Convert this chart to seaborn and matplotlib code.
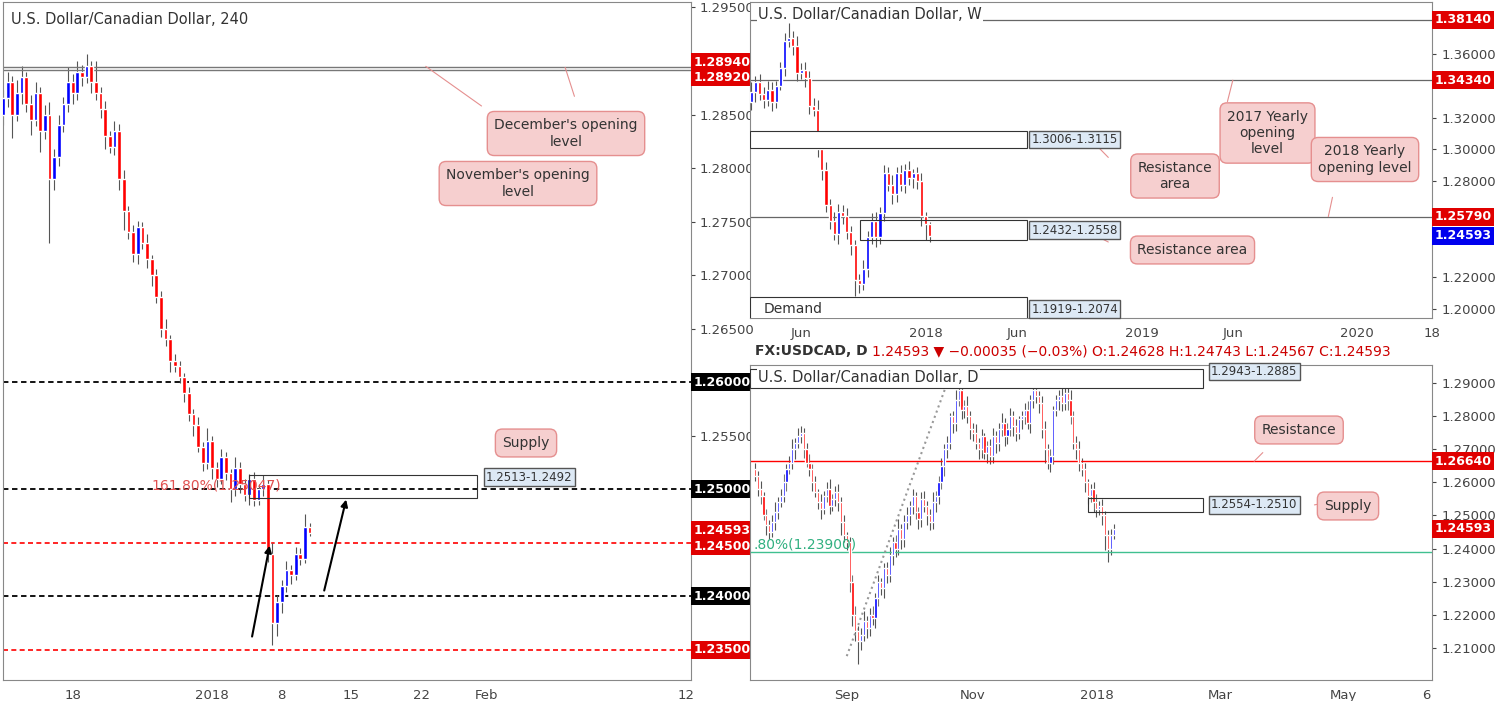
import numpy as np
import seaborn as sns
import matplotlib.pyplot as plt
from matplotlib.patches import Rectangle
from matplotlib.transforms import blended_transform_factory as btf

# ---- 4h panel data (one candle ~ 8h, 15 per week) ----
h4_close = [1.2865, 1.2880, 1.2850, 1.2870, 1.2885, 1.2860, 1.2845, 1.2870, 1.2835, 1.2850,
            1.2790, 1.2810, 1.2840, 1.2860, 1.2880, 1.2870, 1.2890, 1.2885, 1.2895, 1.2880,
            1.2870, 1.2855, 1.2830, 1.2820, 1.2835, 1.2790, 1.2760, 1.2740, 1.2720, 1.2745,
            1.2730, 1.2715, 1.2700, 1.2680, 1.2650, 1.2640, 1.2620, 1.2615, 1.2605, 1.2590,
            1.2570, 1.2560, 1.2540, 1.2525, 1.2545, 1.2520, 1.2510, 1.2530, 1.2515, 1.2500,
            1.2520, 1.2505, 1.2495, 1.2510, 1.2490, 1.2500, 1.2505, 1.2440, 1.2375, 1.2395,
            1.2410, 1.2425, 1.2420, 1.2440, 1.2435, 1.2465, 1.2459]
h4_open0 = 1.2850
h4_wick_hi = [8, 10, 6, 12, 10, 5, 8, 10, 6, 9, 12, 8, 10, 6, 14, 8, 10, 6, 12, 5,
              20, 6, 8, 5, 9, 6, 8, 5, 7, 6, 5, 8, 4, 6, 5, 9, 4, 6, 5, 4,
              6, 5, 8, 4, 12, 5, 6, 8, 5, 4, 10, 6, 5, 4, 6, 5, 8, 4, 10, 6,
              5, 8, 4, 6, 5, 12, 4]
h4_wick_lo = [10, 8, 22, 6, 10, 8, 14, 6, 20, 8, 60, 10, 8, 6, 8, 10, 6, 8, 6, 10,
              6, 8, 12, 6, 8, 10, 18, 6, 8, 10, 6, 8, 10, 6, 8, 6, 10, 5, 6, 8,
              6, 10, 5, 8, 6, 10, 8, 5, 6, 12, 6, 8, 6, 10, 6, 5, 6, 8, 20, 12,
              10, 6, 8, 5, 6, 4, 3]

# ---- weekly panel data (week index from 2017-01-02) ----
w_start = 10
w_close = [1.3360, 1.3420, 1.3350, 1.3310, 1.3370, 1.3300, 1.3400, 1.3510, 1.3680, 1.3700,
           1.3650, 1.3480, 1.3500, 1.3450, 1.3270, 1.3250, 1.3000, 1.2870, 1.2650, 1.2550,
           1.2470, 1.2610, 1.2580, 1.2480, 1.2400, 1.2180, 1.2160, 1.2250, 1.2450, 1.2550,
           1.2450, 1.2600, 1.2850, 1.2780, 1.2720, 1.2850, 1.2780, 1.2870, 1.2820, 1.2850,
           1.2800, 1.2580, 1.2530, 1.2459]
w_open0 = 1.3300
w_wick_hi = [60, 40, 50, 40, 60, 50, 30, 40, 50, 90, 40, 60, 40, 50, 40, 50, 60, 40, 50, 40,
             60, 50, 40, 50, 40, 30, 40, 60, 40, 50, 60, 40, 50, 40, 60, 40, 50, 40, 60, 30,
             40, 50, 30, 15]
w_wick_lo = [50, 60, 40, 50, 40, 60, 40, 30, 50, 40, 60, 50, 40, 60, 50, 40, 50, 60, 40, 50,
             40, 60, 50, 40, 60, 100, 60, 40, 50, 40, 60, 40, 50, 40, 60, 50, 40, 50, 40, 60,
             50, 60, 100, 40]

# ---- daily panel data (trading-day index, idx 32 = 1 Sep 2017) ----
d_close = [1.2620, 1.2580, 1.2560, 1.2500, 1.2470, 1.2450, 1.2480, 1.2510, 1.2540, 1.2560,
           1.2600, 1.2640, 1.2660, 1.2700, 1.2720, 1.2740, 1.2750, 1.2700, 1.2660, 1.2640,
           1.2600, 1.2570, 1.2540, 1.2520, 1.2560, 1.2580, 1.2530, 1.2550, 1.2570, 1.2540,
           1.2480, 1.2440, 1.2420, 1.2300, 1.2200, 1.2150, 1.2120, 1.2140, 1.2180, 1.2160,
           1.2200, 1.2190, 1.2250, 1.2300, 1.2280, 1.2340, 1.2320, 1.2380, 1.2420, 1.2400,
           1.2460, 1.2430, 1.2480, 1.2500, 1.2530, 1.2560, 1.2510, 1.2490, 1.2550, 1.2530,
           1.2500, 1.2480, 1.2540, 1.2560, 1.2600, 1.2650, 1.2700, 1.2720, 1.2800, 1.2780,
           1.2850, 1.2880, 1.2820, 1.2830, 1.2800, 1.2760, 1.2750, 1.2720, 1.2700, 1.2740,
           1.2690, 1.2710, 1.2680, 1.2740, 1.2720, 1.2760, 1.2780, 1.2740, 1.2760, 1.2800,
           1.2770, 1.2750, 1.2790, 1.2800, 1.2820, 1.2780, 1.2850, 1.2880, 1.2860, 1.2840,
           1.2760, 1.2700, 1.2660, 1.2680, 1.2820, 1.2850, 1.2860, 1.2840, 1.2870, 1.2850,
           1.2800, 1.2720, 1.2700, 1.2660, 1.2640, 1.2600, 1.2560, 1.2580, 1.2540, 1.2520,
           1.2530, 1.2500, 1.2440, 1.2400, 1.2440, 1.2459]
d_open0 = 1.2640
d_wick_hi = [20, 15, 25, 10, 20, 15, 20, 30, 15, 20, 25, 15, 20, 30, 15, 25, 20, 15, 20, 25,
             15, 20, 10, 25, 15, 20, 30, 15, 20, 25, 15, 20, 10, 15, 20, 25, 15, 20, 30, 15,
             20, 25, 15, 20, 10, 15, 20, 25, 15, 20, 30, 15, 20, 25, 15, 20, 10, 15, 20, 25,
             15, 20, 30, 15, 20, 25, 15, 20, 10, 15, 30, 25, 15, 20, 30, 15, 20, 25, 15, 20,
             10, 15, 20, 25, 15, 20, 30, 15, 20, 25, 15, 20, 10, 15, 20, 25, 15, 35, 20, 15,
             20, 25, 15, 20, 10, 15, 20, 25, 15, 20, 30, 15, 20, 25, 15, 20, 10, 15, 20, 25,
             15, 20, 15, 15, 20, 15]
d_wick_lo = [15, 20, 25, 15, 30, 20, 15, 25, 20, 15, 20, 25, 15, 20, 30, 15, 20, 25, 15, 20,
             25, 15, 20, 30, 15, 20, 25, 15, 20, 25, 40, 20, 25, 30, 35, 30, 70, 25, 20, 30,
             25, 20, 30, 25, 20, 30, 25, 20, 30, 25, 20, 30, 25, 20, 30, 25, 20, 30, 25, 20,
             30, 25, 20, 30, 25, 20, 30, 25, 20, 30, 25, 20, 30, 25, 20, 30, 25, 20, 30, 25,
             20, 30, 25, 20, 30, 25, 20, 30, 25, 20, 30, 25, 20, 30, 25, 20, 30, 25, 20, 30,
             25, 40, 20, 30, 25, 20, 30, 25, 20, 30, 25, 20, 30, 25, 20, 30, 25, 20, 30, 25,
             20, 30, 45, 40, 20, 10]

UP, DN, WICK = '#0000ff', '#ff0000', '#555555'
PINK_FC, PINK_EC = '#f6cfcf', '#e58f8f'

sns.set_style('white')
plt.rcParams['font.family'] = ['DejaVu Sans']
fig = plt.figure(figsize=(14.98, 7.01), dpi=100)


def candles(ax, x, closes, open0, whi, wlo, width):
    closes = np.array(closes)
    opens = np.concatenate([[open0], closes[:-1]])
    hi = np.maximum(opens, closes) + np.array(whi) * 1e-4
    lo = np.minimum(opens, closes) - np.array(wlo) * 1e-4
    up = closes >= opens
    ax.vlines(x, lo, hi, color=WICK, lw=0.8, zorder=2)
    cols = np.where(up, UP, DN)
    h = np.where(np.abs(closes - opens) < 2e-5, 2e-5, closes - opens)
    ax.bar(x, h, bottom=opens, width=width, color=cols, zorder=3)


def tag(ax, y, text, fc, tc='white'):
    ax.text(1.004, y, text, transform=btf(ax.transAxes, ax.transData), ha='left', va='center',
            fontsize=9, color=tc, fontweight='bold', clip_on=False,
            bbox=dict(boxstyle='square,pad=0.2', fc=fc, ec='none'), zorder=10)


def callout(x0, y0, x1, y1, text, fs=10):
    fig.text((x0 + x1) / 2 / 1498, 1 - (y0 + y1) / 2 / 701, text, ha='center', va='center',
             fontsize=fs, color='#333333', zorder=20,
             bbox=dict(boxstyle='round,pad=0.5', fc=PINK_FC, ec=PINK_EC))


def prices(ax, ticks, skip, gap):
    keep = [t for t in ticks if all(abs(t - s) > gap for s in skip)]
    ax.set_yticks(keep)
    ax.set_yticklabels([f'{v:.5f}' for v in keep])


def style(ax, title):
    ax.yaxis.tick_right()
    ax.tick_params(axis='both', labelsize=9.5, colors='#444444', length=3)
    for s in ax.spines.values():
        s.set_color('#888888')
    ax.text(0.012, 0.985, title, transform=ax.transAxes, ha='left', va='top', fontsize=10.5,
            color='#333333', bbox=dict(fc='white', ec='none', pad=1), zorder=9)


# ---------------- left 4h panel ----------------
ax1 = fig.add_axes([0.002, 0.030, 0.459, 0.967])
x1 = np.arange(len(h4_close))
candles(ax1, x1, h4_close, h4_open0, h4_wick_hi, h4_wick_lo, 0.8)
ax1.set_xlim(0, 148)
ax1.set_ylim(1.2322, 1.2955)
h4_tags = [1.2600, 1.2500, 1.2400, 1.2350, 1.2450, 1.2894, 1.2892]
prices(ax1, list(np.arange(1.235, 1.2951, 0.005)), h4_tags, 0.0022)
ax1.set_xticks([15, 45, 60, 75, 90, 104, 147])
ax1.set_xticklabels(['18', '2018', '8', '15', '22', 'Feb', '12'])
style(ax1, 'U.S. Dollar/Canadian Dollar, 240')
for lvl in [1.2600, 1.2500, 1.2400]:
    ax1.axhline(lvl, color='black', ls=(0, (3, 2)), lw=1.3, zorder=1)
for lvl in [1.2450, 1.2350]:
    ax1.axhline(lvl, color='red', ls=(0, (3, 2)), lw=1.2, zorder=1)
ax1.axhline(1.2894, color='#777777', lw=1)
ax1.axhline(1.2892, color='#777777', lw=1)
ax1.add_patch(Rectangle((53, 1.2492), 49, 0.0021, fill=False, ec='#333333', lw=0.8, zorder=4))
ax1.text(104, 1.25115, '1.2513-1.2492', fontsize=8.5, color='#333333', va='center',
         bbox=dict(fc='#dde9f5', ec='#555555', pad=1.5))
ax1.text(32, 1.2504, '161.80%(1.25047)', fontsize=10, color='#e05050', va='center')
ax1.annotate('', xy=(57.5, 1.2450), xytext=(53.5, 1.2360),
             arrowprops=dict(arrowstyle='-|>', color='black', lw=1.5))
ax1.annotate('', xy=(74, 1.2493), xytext=(69, 1.2403),
             arrowprops=dict(arrowstyle='-|>', color='black', lw=1.5))
ax1.plot([91, 103], [1.2895, 1.2858], color='#e58f8f', lw=0.8)
ax1.plot([121, 123], [1.2894, 1.2867], color='#e58f8f', lw=0.8)
callout(495, 112, 637, 155, "December's opening\nlevel")
callout(448, 162, 588, 205, "November's opening\nlevel")
callout(495, 428, 557, 458, 'Supply')
tag(ax1, 1.2600, '1.26000', 'black')
tag(ax1, 1.2500, '1.25000', 'black')
tag(ax1, 1.2400, '1.24000', 'black')
tag(ax1, 1.2350, '1.23500', '#e00000')
tag(ax1, 1.2447, '1.24500', '#e00000')
tag(ax1, 1.2462, '1.24593', '#e00000')
tag(ax1, 1.2899, '1.28940', '#e00000')
tag(ax1, 1.2885, '1.28920', '#e00000')

# ---------------- weekly panel ----------------
ax2 = fig.add_axes([0.5007, 0.5464, 0.4553, 0.451])
x2 = np.arange(w_start, w_start + len(w_close))
candles(ax2, x2, w_close, w_open0, w_wick_hi, w_wick_lo, 0.75)
ax2.set_xlim(9.7, 174)
ax2.set_ylim(1.1944, 1.3925)
w_tags = [1.3814, 1.3434, 1.2579, 1.24593]
prices(ax2, list(np.arange(1.20, 1.361, 0.02)), w_tags, 0.0065)
ax2.set_xticks([22, 52, 74, 104, 126, 156, 174])
ax2.set_xticklabels(['Jun', '2018', 'Jun', '2019', 'Jun', '2020', '18'])
style(ax2, 'U.S. Dollar/Canadian Dollar, W')
for lvl in [1.3814, 1.3434, 1.2579]:
    ax2.axhline(lvl, color='#666666', lw=0.9)
ax2.add_patch(Rectangle((9.7, 1.3006), 66.6, 0.0109, fc='white', ec='#333333', lw=0.8, zorder=4))
ax2.add_patch(Rectangle((36.3, 1.2432), 40, 0.0126, fill=False, ec='#333333', lw=0.8, zorder=4))
ax2.add_patch(Rectangle((9.7, 1.1919), 66.6, 0.0155, fc='white', ec='#333333', lw=0.8, zorder=4))
for yv, txt in [(1.3060, '1.3006-1.3115'), (1.2495, '1.2432-1.2558'), (1.2000, '1.1919-1.2074')]:
    ax2.text(77.5, yv, txt, fontsize=8.5, color='#333333', va='center',
             bbox=dict(fc='#dde9f5', ec='#555555', pad=1.5))
ax2.text(13, 1.2000, 'Demand', fontsize=10, color='#333333', va='center', zorder=5)
ax2.plot([90, 96], [1.3110, 1.2950], color='#e58f8f', lw=0.8)
ax2.plot([90, 96], [1.2500, 1.2420], color='#e58f8f', lw=0.8)
ax2.plot([126, 124.7], [1.3434, 1.3300], color='#e58f8f', lw=0.8)
ax2.plot([149, 150], [1.2579, 1.2700], color='#e58f8f', lw=0.8)
callout(1220, 103, 1315, 163, '2017 Yearly\nopening\nlevel')
callout(1320, 132, 1410, 187, '2018 Yearly\nopening level')
callout(1135, 155, 1215, 197, 'Resistance\narea')
callout(1135, 235, 1250, 265, 'Resistance area')
tag(ax2, 1.3814, '1.38140', '#e00000')
tag(ax2, 1.3434, '1.34340', '#e00000')
tag(ax2, 1.2579, '1.25790', '#e00000')
tag(ax2, 1.24593, '1.24593', '#0000ee')

# ---------------- daily panel ----------------
fig.text(755 / 1498, 1 - 351 / 701, 'FX:USDCAD, D', fontsize=10, fontweight='bold',
         color='#333333', va='center')
fig.text(872 / 1498, 1 - 351 / 701,
         '1.24593 \u25bc \u22120.00035 (\u22120.03%) O:1.24628 H:1.24743 L:1.24567 C:1.24593',
         fontsize=10, color='#cc0000', va='center')
ax3 = fig.add_axes([0.5007, 0.030, 0.4553, 0.449])
x3 = np.arange(len(d_close))
candles(ax3, x3, d_close, d_open0, d_wick_hi, d_wick_lo, 0.75)
ax3.set_xlim(-1.7, 236)
ax3.set_ylim(1.2003, 1.2954)
d_tags = [1.2664, 1.24593]
prices(ax3, list(np.arange(1.21, 1.2901, 0.01)), d_tags, 0.003)
ax3.set_xticks([32, 76, 119, 162, 205, 234])
ax3.set_xticklabels(['Sep', 'Nov', '2018', 'Mar', 'May', '6'])
style(ax3, 'U.S. Dollar/Canadian Dollar, D')
ax3.axhline(1.2664, color='red', lw=1)
ax3.axhline(1.2390, color='#40c090', lw=1)
ax3.plot([32, 67], [1.2075, 1.2900], color='#999999', ls=':', lw=1.5)
ax3.add_patch(Rectangle((-1.7, 1.2885), 158, 0.0058, fc='white', ec='#333333', lw=0.8, zorder=4))
ax3.add_patch(Rectangle((116, 1.2510), 40, 0.0044, fill=False, ec='#333333', lw=0.8, zorder=4))
ax3.text(159, 1.2935, '1.2943-1.2885', fontsize=8.5, color='#333333', va='center',
         bbox=dict(fc='#dde9f5', ec='#555555', pad=1.5))
ax3.text(159, 1.2532, '1.2554-1.2510', fontsize=8.5, color='#333333', va='center',
         bbox=dict(fc='#dde9f5', ec='#555555', pad=1.5))
ax3.text(-0.5, 1.2390, '.80%(1.23900)', fontsize=10, color='#30b080', va='bottom')
ax3.plot([174, 177], [1.2664, 1.2690], color='#e58f8f', lw=0.8)
ax3.plot([195, 200], [1.2532, 1.2540], color='#e58f8f', lw=0.8)
callout(1255, 415, 1343, 445, 'Resistance')
callout(1318, 490, 1378, 522, 'Supply')
tag(ax3, 1.2664, '1.26640', '#e00000')
tag(ax3, 1.24593, '1.24593', '#e00000')

fig.savefig('out.png', dpi=100)
